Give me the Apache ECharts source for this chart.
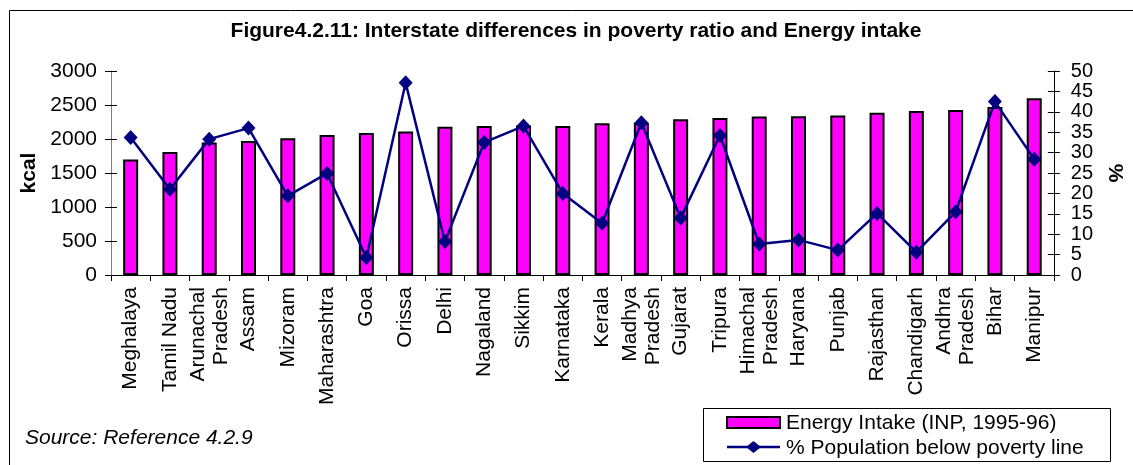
<!DOCTYPE html>
<html><head><meta charset="utf-8">
<script src="https://cdn.jsdelivr.net/npm/echarts@6/dist/echarts.min.js"></script>
<style>html,body{margin:0;padding:0;background:#fff}#c{width:1133px;height:465px}</style>
</head><body><div id="c"></div>
<script>
const categories = ["Meghalaya","Tamil Nadu","Arunachal\nPradesh","Assam","Mizoram","Maharashtra","Goa","Orissa","Delhi","Nagaland","Sikkim","Karnataka","Kerala","Madhya\nPradesh","Gujarat","Tripura","Himachal\nPradesh","Haryana","Punjab","Rajasthan","Chandigarh","Andhra\nPradesh","Bihar","Manipur"];
const energyIntake = [1700,1810,1950,1970,2010,2060,2090,2110,2180,2190,2200,2190,2230,2240,2290,2310,2330,2335,2345,2385,2410,2425,2470,2600];
const povertyPct = [33.7,21.0,33.3,36.0,19.4,24.9,4.3,47.1,8.2,32.5,36.5,20.0,12.7,37.3,14.0,34.2,7.6,8.6,6.1,15.1,5.6,15.5,42.5,28.4];
const kcalTicks = {min:0, max:3000, interval:500};
const pctTicks = {min:0, max:50, interval:5};
const titleText = "Figure4.2.11: Interstate differences in poverty ratio and Energy intake";
const sourceText = "Source: Reference 4.2.9";
const seriesNames = ["Energy Intake (INP, 1995-96)", "% Population below poverty line"];

const F = 'Arial, "Liberation Sans", sans-serif';
const FS = 21;
const chart = echarts.init(document.getElementById('c'));
const hiddenAxis = (pos, t) => ({
  type:'value', position:pos, min:t.min, max:t.max, interval:t.interval,
  axisLine:{show:false}, axisLabel:{show:false}, splitLine:{show:false},
  axisTick:{show:true, inside:true, length:6, lineStyle:{color:'#000', width:1}}
});
chart.setOption({
  animation:false,
  textStyle:{fontFamily:F},
  grid:{left:111, right:60, top:71, bottom:190},
  legend:{show:false},
  graphic:[
    {type:'rect', shape:{x:9.5, y:10.5, width:1130, height:470}, style:{fill:'none', stroke:'#000', lineWidth:1}},
    {type:'text', x:576, y:31, style:{text:titleText, font:'bold 21px '+F, fill:'#000', textAlign:'center', textVerticalAlign:'middle'}},
    {type:'text', x:25, y:438, style:{text:sourceText, font:'italic 21px '+F, fill:'#000', textAlign:'left', textVerticalAlign:'middle'}},
    {type:'rect', shape:{x:703.5, y:408.5, width:407, height:53}, style:{fill:'#fff', stroke:'#000', lineWidth:1}},
    {type:'rect', shape:{x:727, y:417, width:53, height:11}, style:{fill:'#FF00FF', stroke:'#000', lineWidth:2}},
    {type:'text', x:786, y:423, style:{text:seriesNames[0], font:FS+'px '+F, fill:'#000', textAlign:'left', textVerticalAlign:'middle'}},
    {type:'line', shape:{x1:727, y1:447, x2:780, y2:447}, style:{stroke:'#000080', lineWidth:2.5}},
    {type:'polygon', shape:{points:[[753.5,441],[761,447],[753.5,453],[746,447]]}, style:{fill:'#000080'}},
    {type:'text', x:786, y:448, style:{text:seriesNames[1], font:FS+'px '+F, fill:'#000', textAlign:'left', textVerticalAlign:'middle'}}
  ],
  xAxis:{
    type:'category', data:categories,
    axisLine:{lineStyle:{color:'#000', width:1}},
    axisTick:{show:true, length:6, alignWithLabel:false, lineStyle:{color:'#000'}},
    axisLabel:{interval:0, rotate:90, fontSize:FS, color:'#000', margin:12, lineHeight:23, fontFamily:F}
  },
  yAxis:[
    {type:'value', position:'left', min:kcalTicks.min, max:kcalTicks.max, interval:kcalTicks.interval,
     name:'kcal', nameLocation:'middle', nameGap:70, nameRotate:90,
     nameTextStyle:{fontSize:FS, fontWeight:'bold', color:'#000', fontFamily:F},
     axisLine:{show:true, lineStyle:{color:'#808080', width:1}},
     axisTick:{show:true, length:6, lineStyle:{color:'#000'}},
     axisLabel:{fontSize:FS, color:'#000', margin:14, fontFamily:F, formatter:v => String(v)},
     splitLine:{show:false}},
    {type:'value', position:'right', min:pctTicks.min, max:pctTicks.max, interval:pctTicks.interval,
     name:'%', nameLocation:'middle', nameGap:44, nameRotate:-90,
     nameTextStyle:{fontSize:FS, fontWeight:'bold', color:'#000', fontFamily:F},
     axisLine:{show:true, lineStyle:{color:'#000', width:1}},
     axisTick:{show:true, length:6, lineStyle:{color:'#000'}},
     axisLabel:{fontSize:20, color:'#000', margin:17, fontFamily:F},
     splitLine:{show:false}},
    hiddenAxis('left', kcalTicks),
    hiddenAxis('right', pctTicks)
  ],
  series:[
    {name:seriesNames[0], type:'bar', data:energyIntake, yAxisIndex:0, barWidth:15,
     itemStyle:{color:'#FF00FF', borderColor:'#000', borderWidth:2}},
    {name:seriesNames[1], type:'line', data:povertyPct, yAxisIndex:1,
     symbol:'diamond', symbolSize:[14,15],
     lineStyle:{color:'#000080', width:2.5}, itemStyle:{color:'#000080'}}
  ]
});
</script></body></html>
